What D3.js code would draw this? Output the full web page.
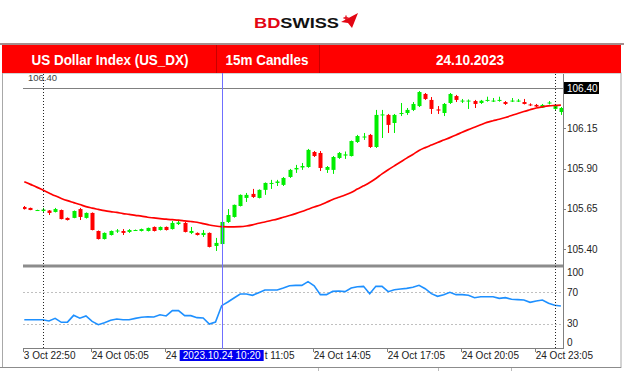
<!DOCTYPE html>
<html>
<head>
<meta charset="utf-8">
<script src="https://cdn.jsdelivr.net/npm/d3@7"></script>
<style>
body { margin: 0; background: #fff; }
svg { display: block; }
</style>
</head>
<body>
<svg id="chart" width="624" height="371"></svg>
<script>
// 15m candles, US_DX, 24.10.2023
let opens = [105.662,105.656,105.640,105.637,105.640,105.631,105.643,105.594,105.594,105.649,
  105.594,105.625,105.513,105.463,105.488,105.510,105.513,105.507,105.516,105.513,
  105.513,105.538,105.519,105.538,105.525,105.556,105.563,105.501,105.501,105.488,
  105.501,105.420,105.432,105.569,105.600,105.668,105.718,105.743,105.718,105.768,
  105.805,105.811,105.799,105.848,105.895,105.907,105.910,106.003,105.997,105.892,
  105.892,105.966,105.981,105.978,106.065,106.093,106.109,106.034,106.230,106.233,
  106.183,106.239,106.245,106.264,106.288,106.363,106.326,106.267,106.245,106.307,
  106.350,106.319,106.316,106.319,106.307,106.322,106.319,106.322,106.313,106.319,
  106.319,106.313,106.298,106.295,106.278,106.304,106.270,106.251];
let highs = [105.668,105.658,105.645,105.656,105.643,105.656,105.646,105.597,105.640,105.656,
  105.628,105.628,105.516,105.504,105.516,105.525,105.525,105.525,105.522,105.528,
  105.534,105.541,105.541,105.541,105.575,105.575,105.569,105.538,105.504,105.519,
  105.504,105.470,105.572,105.649,105.677,105.740,105.749,105.774,105.771,105.814,
  105.830,105.830,105.848,105.898,105.923,105.935,106.022,106.009,106.009,105.916,
  105.978,106.003,106.006,106.074,106.109,106.121,106.115,106.264,106.264,106.239,
  106.239,106.307,106.276,106.313,106.381,106.369,106.344,106.288,106.307,106.369,
  106.357,106.332,106.329,106.326,106.326,106.346,106.338,106.346,106.319,106.338,
  106.332,106.332,106.305,106.301,106.301,106.319,106.295,106.282];
let lows = [105.646,105.642,105.638,105.625,105.612,105.628,105.585,105.578,105.592,105.581,
  105.590,105.517,105.460,105.460,105.485,105.501,105.488,105.501,105.513,105.510,
  105.510,105.510,105.516,105.516,105.522,105.550,105.504,105.494,105.485,105.476,
  105.411,105.389,105.430,105.563,105.596,105.665,105.693,105.718,105.715,105.737,
  105.774,105.792,105.792,105.842,105.873,105.892,105.905,105.972,105.885,105.873,
  105.867,105.960,105.960,105.975,106.059,106.078,106.028,106.028,106.090,106.121,
  106.121,106.226,106.233,106.257,106.282,106.326,106.239,106.239,106.226,106.301,
  106.313,106.307,106.270,106.276,106.301,106.315,106.313,106.315,106.295,106.313,
  106.313,106.298,106.288,106.282,106.276,106.298,106.264,106.233];
let closes = [105.649,105.643,105.643,105.646,105.625,105.649,105.587,105.581,105.637,105.600,
  105.625,105.519,105.463,105.501,105.513,105.516,105.501,105.519,105.519,105.525,
  105.532,105.513,105.538,105.519,105.563,105.566,105.507,105.513,105.488,105.501,
  105.414,105.439,105.569,105.612,105.675,105.737,105.737,105.724,105.768,105.811,
  105.811,105.820,105.842,105.892,105.904,105.916,106.016,105.978,105.904,105.910,
  105.972,105.997,105.988,106.071,106.102,106.099,106.034,106.233,106.236,106.171,
  106.233,106.245,106.264,106.301,106.375,106.332,106.270,106.260,106.301,106.363,
  106.326,106.322,106.322,106.301,106.321,106.326,106.322,106.326,106.301,106.322,
  106.322,106.301,106.292,106.285,106.295,106.310,106.290,106.276];

// red moving average
let maValues = [105.819,105.802,105.785,105.767,105.749,105.731,105.715,105.701,105.689,105.677,
  105.664,105.655,105.647,105.639,105.633,105.628,105.621,105.616,105.610,105.605,
  105.598,105.594,105.590,105.586,105.583,105.580,105.576,105.572,105.567,105.559,
  105.550,105.544,105.540,105.539,105.539,105.540,105.544,105.551,105.561,105.569,
  105.578,105.587,105.598,105.609,105.621,105.634,105.648,105.662,105.674,105.691,
  105.708,105.722,105.736,105.752,105.773,105.793,105.814,105.839,105.867,105.893,
  105.917,105.941,105.965,105.988,106.012,106.030,106.046,106.062,106.077,106.092,
  106.108,106.126,106.142,106.157,106.172,106.187,106.197,106.206,106.217,106.229,
  106.242,106.254,106.265,106.276,106.283,106.289,106.292,106.294];

// oscillator in the lower panel (0..100)
let rsiValues = [35.1,35,35,35,33.5,36.8,31.8,32,40.6,37,
  39.8,33,28.8,31.3,34.3,36,35.1,35,36.8,38.1,
  38.9,38.5,41.4,39.8,46.5,46.5,40.2,40.2,37.7,37.3,
  29.7,32.2,52.8,57.4,62.5,67.5,67.5,65.9,69.2,72.6,
  72.6,72.6,75.1,78,78.5,78.5,83.1,78,66.7,66.7,
  70.9,71.3,70.5,75.1,76.8,77.2,68,77.2,77.2,70.5,
  73,73.9,74.7,76,78.5,74.2,68,64.6,66.7,69.7,
  66.7,66.7,65.9,62.9,64.1,64.1,64.1,62.1,62.9,60.9,
  60.4,60,57,58.7,60,55.8,53.3,52.4];

let priceTicks = [105.40, 105.65, 105.90, 106.15];
let levelLine = 106.40;
let rsiTicks = [0, 30, 70, 100];
let rsiLevels = [30, 70];
// labels as they show (two are partly hidden by the cursor box)
let timeLabels = ['3 Oct 22:50', '24 Oct 05:05', '24', 't 11:05',
  '24 Oct 14:05', '24 Oct 17:05', '24 Oct 20:05', '24 Oct 23:05'];
let timeLabelBars = [0, 11, 23, 35, 47, 59, 71, 83];
let separatorBars = [3, 86];
let cursorBar = 32;
let cursorLabel = '2023.10.24 10:20';

let svg = d3.select('#chart');
let font = "'Liberation Sans', Arial, sans-serif";

let left = 23, right = 563;
let xScale = d3.scaleLinear().domain([0, 87]).range([24.3, 560.9]);
let yScale = d3.scaleLinear().domain([105.40, 106.40]).range([249.2, 88]);
let rScale = d3.scaleLinear().domain([0, 100]).range([347.5, 268.3]);
let cx = xScale(cursorBar);

// --- header ---
svg.append('text')
    .attr('x', 254).attr('y', 28)
    .attr('font-family', font).attr('font-weight', 'bold').attr('font-size', 15.5)
    .attr('textLength', 85).attr('lengthAdjust', 'spacingAndGlyphs')
    .html('<tspan fill="#e30613">BD</tspan><tspan fill="#111">SWISS</tspan>');
svg.append('path')
    .attr('d', 'M341,22 L358,13 L352,28 L348,23 Z')
    .attr('fill', '#e30613');
svg.append('path')
    .attr('d', 'M343.5,18 h5 M346,15.5 v5')
    .attr('stroke', '#e30613').attr('stroke-width', 1.3);

svg.append('line').attr('x1', 0).attr('x2', 624).attr('y1', 44).attr('y2', 44)
    .attr('stroke', '#4a1c1c').attr('stroke-width', 1.2);

// frame
svg.append('rect').attr('x', 2.5).attr('y', 73).attr('width', 618.5).attr('height', 294.5)
    .attr('fill', 'none').attr('stroke', '#a8a8a8');

// --- price panel ---
let pricePanel = svg.append('g');
svg.append('clipPath').attr('id', 'clipPrice')
    .append('rect').attr('x', left).attr('y', 74).attr('width', right - left).attr('height', 190);
svg.append('clipPath').attr('id', 'clipRsi')
    .append('rect').attr('x', left).attr('y', 268).attr('width', right - left).attr('height', 80);

// left label of the level line
pricePanel.append('text')
    .attr('x', 28).attr('y', 81)
    .attr('font-family', font).attr('font-size', 9.5).attr('fill', '#444')
    .text(levelLine.toFixed(2));

pricePanel.append('line')
    .attr('x1', left).attr('x2', right)
    .attr('y1', Math.round(yScale(levelLine)) + 0.5).attr('y2', Math.round(yScale(levelLine)) + 0.5)
    .attr('stroke', '#808080');

let bars = d3.range(opens.length).map(i => ({
    i: i, o: opens[i], h: highs[i], l: lows[i], c: closes[i]
}));

let candles = pricePanel.append('g').attr('clip-path', 'url(#clipPrice)')
    .selectAll('g').data(bars).enter().append('g');
candles.append('line')
    .attr('x1', d => Math.round(xScale(d.i)) + 0.5)
    .attr('x2', d => Math.round(xScale(d.i)) + 0.5)
    .attr('y1', d => yScale(d.h))
    .attr('y2', d => yScale(d.l))
    .attr('stroke', d => d.c >= d.o ? '#00ee00' : '#ff0000');
candles.append('rect')
    .attr('x', d => Math.round(xScale(d.i)) - 1.5)
    .attr('width', 4)
    .attr('y', d => yScale(Math.max(d.o, d.c)))
    .attr('height', d => Math.max(1, yScale(Math.min(d.o, d.c)) - yScale(Math.max(d.o, d.c))))
    .attr('fill', d => d.c >= d.o ? '#00ee00' : '#ff0000');

let maLine = d3.line()
    .x((d, i) => xScale(i))
    .y(d => yScale(d))
    .curve(d3.curveMonotoneX);
pricePanel.append('path')
    .attr('clip-path', 'url(#clipPrice)')
    .attr('d', maLine(maValues))
    .attr('fill', 'none').attr('stroke', '#ff0000').attr('stroke-width', 1.7);

// separator between panels
svg.append('rect').attr('x', left).attr('y', 264.5).attr('width', right - left).attr('height', 3)
    .attr('fill', '#8c8c8c');

// --- oscillator panel ---
let rsiPanel = svg.append('g');
rsiPanel.selectAll('.lvl').data(rsiLevels).enter().append('line')
    .attr('x1', left).attr('x2', right)
    .attr('y1', d => Math.round(rScale(d)) + 0.5).attr('y2', d => Math.round(rScale(d)) + 0.5)
    .attr('stroke', '#c0c0c0').attr('stroke-dasharray', '2,2');

let rsiLine = d3.line()
    .x((d, i) => xScale(i))
    .y(d => rScale(d));
rsiPanel.append('path')
    .attr('clip-path', 'url(#clipRsi)')
    .attr('d', rsiLine(rsiValues))
    .attr('fill', 'none').attr('stroke', '#1e90ff').attr('stroke-width', 1.6);

// bottom time axis line
svg.append('line').attr('x1', left).attr('x2', right).attr('y1', 348.5).attr('y2', 348.5)
    .attr('stroke', '#808080');

// day separators
svg.selectAll('.sep').data(separatorBars).enter().append('line')
    .attr('x1', d => Math.round(xScale(d)) + 0.5).attr('x2', d => Math.round(xScale(d)) + 0.5)
    .attr('y1', 74).attr('y2', 349)
    .attr('stroke', '#222').attr('stroke-dasharray', '1,2');

// cursor line
svg.append('line')
    .attr('x1', Math.round(cx) + 0.5).attr('x2', Math.round(cx) + 0.5)
    .attr('y1', 73).attr('y2', 349)
    .attr('stroke', '#6f6fff').attr('stroke-width', 1);

// --- right axis ---
svg.append('line').attr('x1', right + 0.5).attr('x2', right + 0.5).attr('y1', 74).attr('y2', 349)
    .attr('stroke', '#808080');
svg.selectAll('.ptick').data(priceTicks).enter().append('line')
    .attr('x1', right).attr('x2', right + 3)
    .attr('y1', d => Math.round(yScale(d)) + 0.5).attr('y2', d => Math.round(yScale(d)) + 0.5)
    .attr('stroke', '#808080');
svg.selectAll('.plabel').data(priceTicks).enter().append('text')
    .attr('x', right + 4).attr('y', d => yScale(d) + 3.5)
    .attr('font-family', font).attr('font-size', 10).attr('fill', '#222')
    .text(d => d.toFixed(2));
svg.append('rect').attr('x', right + 1).attr('y', yScale(levelLine) - 6).attr('width', 35).attr('height', 12)
    .attr('fill', '#000');
svg.append('text')
    .attr('x', right + 4).attr('y', yScale(levelLine) + 3.5)
    .attr('font-family', font).attr('font-size', 10).attr('fill', '#fff')
    .text(levelLine.toFixed(2));

svg.selectAll('.rlabel').data(rsiTicks).enter().append('text')
    .attr('x', right + 4)
    .attr('y', d => Math.min(346, Math.max(276, rScale(d) + 3.5)))
    .attr('font-family', font).attr('font-size', 10).attr('fill', '#222')
    .text(d => d);

// --- time axis ---
svg.selectAll('.ttick').data(timeLabelBars).enter().append('line')
    .attr('x1', d => Math.round(xScale(d)) - 0.5).attr('x2', d => Math.round(xScale(d)) - 0.5)
    .attr('y1', 349).attr('y2', 352)
    .attr('stroke', '#808080');
svg.selectAll('.tlabel').data(timeLabelBars).enter().append('text')
    .attr('x', (d, i) => d === 35 ? cx + 43 : xScale(d) - 0.5).attr('y', 359)
    .attr('font-family', font).attr('font-size', 10).attr('fill', '#222')
    .text((d, i) => timeLabels[i]);

svg.append('rect').attr('x', cx - 42).attr('y', 350).attr('width', 84).attr('height', 11)
    .attr('fill', '#0000f0');
svg.append('text')
    .attr('x', cx).attr('y', 359).attr('text-anchor', 'middle')
    .attr('font-family', font).attr('font-size', 10).attr('fill', '#fff')
    .text(cursorLabel);

// bottom strip
svg.append('line').attr('x1', 0).attr('x2', 621).attr('y1', 367.5).attr('y2', 367.5)
    .attr('stroke', '#8c8c8c');
svg.selectAll('.tab').data([318, 438, 511]).enter().append('line')
    .attr('x1', d => d + 0.5).attr('x2', d => d + 0.5).attr('y1', 368).attr('y2', 371)
    .attr('stroke', '#bbb');

// --- title bar ---
let bar = svg.append('g');
bar.append('rect').attr('x', 2).attr('y', 45).attr('width', 619).attr('height', 28)
    .attr('fill', '#ff0000');
bar.selectAll('.div').data([216, 319]).enter().append('line')
    .attr('x1', d => d + 0.5).attr('x2', d => d + 0.5).attr('y1', 45).attr('y2', 73)
    .attr('stroke', '#c80000');
let titles = [
    { t: 'US Dollar Index (US_DX)', x: 110, w: 157 },
    { t: '15m Candles', x: 267, w: 83 },
    { t: '24.10.2023', x: 470, w: 68 }
];
bar.selectAll('.title').data(titles).enter().append('text')
    .attr('x', d => d.x).attr('y', 64.5)
    .attr('text-anchor', 'middle')
    .attr('font-family', font).attr('font-weight', 'bold').attr('font-size', 15)
    .attr('textLength', d => d.w).attr('lengthAdjust', 'spacingAndGlyphs')
    .attr('fill', '#fff')
    .text(d => d.t);
</script>
</body>
</html>
